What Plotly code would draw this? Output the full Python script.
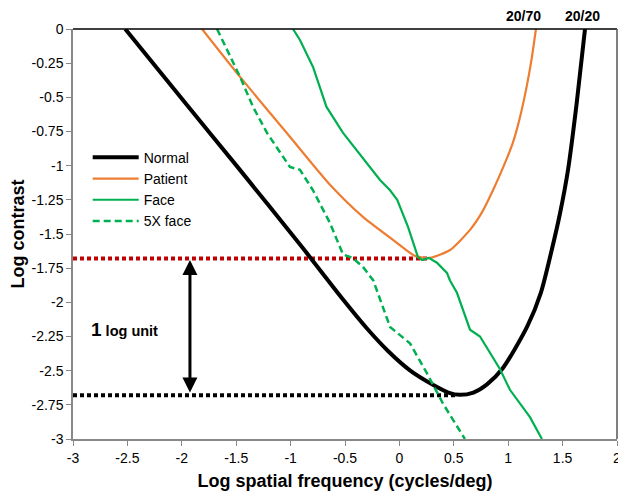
import plotly.graph_objects as go

# ---- data ----
normal_x = [-2.52, -1.99, -1.49, -0.886, -0.518, -0.3, -0.1, 0.1, 0.3, 0.45, 0.557, 0.68, 0.805, 0.952, 1.173, 1.30, 1.40,
            1.476, 1.55, 1.63, 1.706]
normal_y = [0.0, -0.52, -1.007, -1.605, -1.98, -2.19, -2.36, -2.5, -2.6, -2.66, -2.677, -2.66, -2.6, -2.48, -2.18, -1.93,
            -1.617, -1.35, -1.03, -0.54, 0.0]

patient_x = [-1.814, -1.465, -1.033, -0.638, -0.335, -0.02, 0.143, 0.28, 0.465, 0.649, 0.76, 0.86, 0.96, 1.044, 1.11, 1.17, 1.215, 1.255]
patient_y = [0.0, -0.35, -0.763, -1.14, -1.375, -1.566, -1.66, -1.675, -1.617, -1.47, -1.34, -1.18, -1.0, -0.83, -0.64, -0.42, -0.22, 0.0]

face_x = [-0.978, -0.914, -0.794, -0.67, -0.518, -0.298, -0.178, -0.086, -0.02, 0.08, 0.171, 0.208, 0.27, 0.345, 0.437, 0.465,
          0.529, 0.649, 0.741, 0.925, 1.016, 1.2, 1.31]
face_y = [0.0, -0.08, -0.278, -0.57, -0.76, -0.98, -1.105, -1.18, -1.25, -1.45, -1.67, -1.69, -1.675, -1.71, -1.785, -1.84,
          -1.93, -2.20, -2.25, -2.49, -2.64, -2.84, -3.0]

face5_x = [-1.676, -1.465, -1.345, -1.217, -1.006, -0.914, -0.794, -0.638, -0.518, -0.43, -0.335, -0.24, -0.086, -0.022,
           0.097, 0.254, 0.40, 0.602]
face5_y = [0.0, -0.35, -0.57, -0.76, -1.01, -1.03, -1.18, -1.42, -1.65, -1.675, -1.74, -1.84, -2.18, -2.22,
           -2.30, -2.52, -2.74, -3.0]

patient_ref_x = [-3.0, 0.28]
patient_ref_y = [-1.68, -1.68]
normal_ref_x = [-3.0, 0.52]
normal_ref_y = [-2.68, -2.68]

x_ticks = [-3, -2.5, -2, -1.5, -1, -0.5, 0, 0.5, 1, 1.5, 2]
y_ticks = [0, -0.25, -0.5, -0.75, -1, -1.25, -1.5, -1.75, -2, -2.25, -2.5, -2.75, -3]

acuity_labels = ["20/70", "20/20"]
acuity_x = [1.136, 1.68]

FONT = "Liberation Sans, Arial, sans-serif"

fig = go.Figure()
fig.add_trace(go.Scatter(x=patient_ref_x, y=patient_ref_y, mode="lines", showlegend=False,
                         line=dict(color="#C00000", width=4, dash="4px,3px")))
fig.add_trace(go.Scatter(x=normal_ref_x, y=normal_ref_y, mode="lines", showlegend=False,
                         line=dict(color="#000000", width=4, dash="4px,3px")))
fig.add_trace(go.Scatter(x=normal_x, y=normal_y, mode="lines", name="Normal",
                         line=dict(color="#000000", width=4, shape="spline", smoothing=0.7)))
fig.add_trace(go.Scatter(x=patient_x, y=patient_y, mode="lines", name="Patient",
                         line=dict(color="#ED7D31", width=2.2, shape="spline", smoothing=0.6)))
fig.add_trace(go.Scatter(x=face_x, y=face_y, mode="lines", name="Face",
                         line=dict(color="#00B050", width=2.2)))
fig.add_trace(go.Scatter(x=face5_x, y=face5_y, mode="lines", name="5X face",
                         line=dict(color="#00B050", width=2.5, dash="7px,4px")))

# double-headed arrow
fig.add_annotation(x=-1.925, y=-1.69, ax=-1.925, ay=-2.67, xref="x", yref="y", axref="x", ayref="y",
                   showarrow=True, arrowhead=2, startarrowhead=2, arrowside="end+start",
                   arrowwidth=3, arrowsize=1, arrowcolor="#000000", text="")
fig.add_annotation(x=-2.85, y=-2.2, xref="x", yref="y", xanchor="left", yanchor="middle", showarrow=False,
                   text="<b><span style='font-size:19px'>1</span> log unit</b>",
                   font=dict(family=FONT, size=14.5, color="#000000"))
for lab, xv in zip(acuity_labels, acuity_x):
    fig.add_annotation(x=xv, y=1.0, xref="x", yref="paper", yanchor="bottom", yshift=3, showarrow=False,
                       text="<b>" + lab + "</b>", font=dict(family=FONT, size=14, color="#000000"))

# plot-area top and right borders
fig.add_shape(type="line", xref="paper", yref="paper", x0=0, x1=1, y0=1, y1=1, line=dict(color="#000000", width=1.5))
fig.add_shape(type="line", xref="paper", yref="paper", x0=1, x1=1, y0=0, y1=1, line=dict(color="#555555", width=1.5))

# the page adds an 8px body margin, so the figure is sized to fit the 626x496 window
fig.update_layout(
    width=618, height=488,
    margin=dict(l=65, r=9, t=21, b=57, autoexpand=False),
    paper_bgcolor="white", plot_bgcolor="white",
    font=dict(family=FONT, size=14, color="#000000"),
    showlegend=True,
    legend=dict(x=0.027, y=0.725, xanchor="left", yanchor="top", bgcolor="rgba(0,0,0,0)",
                font=dict(family=FONT, size=14), tracegroupgap=0, itemwidth=46),
    xaxis=dict(range=[-3, 2], tickvals=x_ticks, ticktext=[str(v) for v in x_ticks], showgrid=False, zeroline=False,
               showline=True, linecolor="#888888", linewidth=1.5, ticks="outside", ticklen=5, tickcolor="#888888",
               automargin=False,
               title=dict(text="<b>Log spatial frequency (cycles/deg)</b>", font=dict(size=18), standoff=10),
               tickfont=dict(size=14)),
    yaxis=dict(range=[-3, 0], tickvals=y_ticks, ticktext=[str(v) for v in y_ticks], showgrid=False, zeroline=False,
               showline=True, linecolor="#888888", linewidth=1.5, ticks="outside", ticklen=5, tickcolor="#888888",
               automargin=False,
               title=dict(text="<b>Log contrast</b>", font=dict(size=18), standoff=5),
               tickfont=dict(size=14)),
)

fig.write_html("out.html")
